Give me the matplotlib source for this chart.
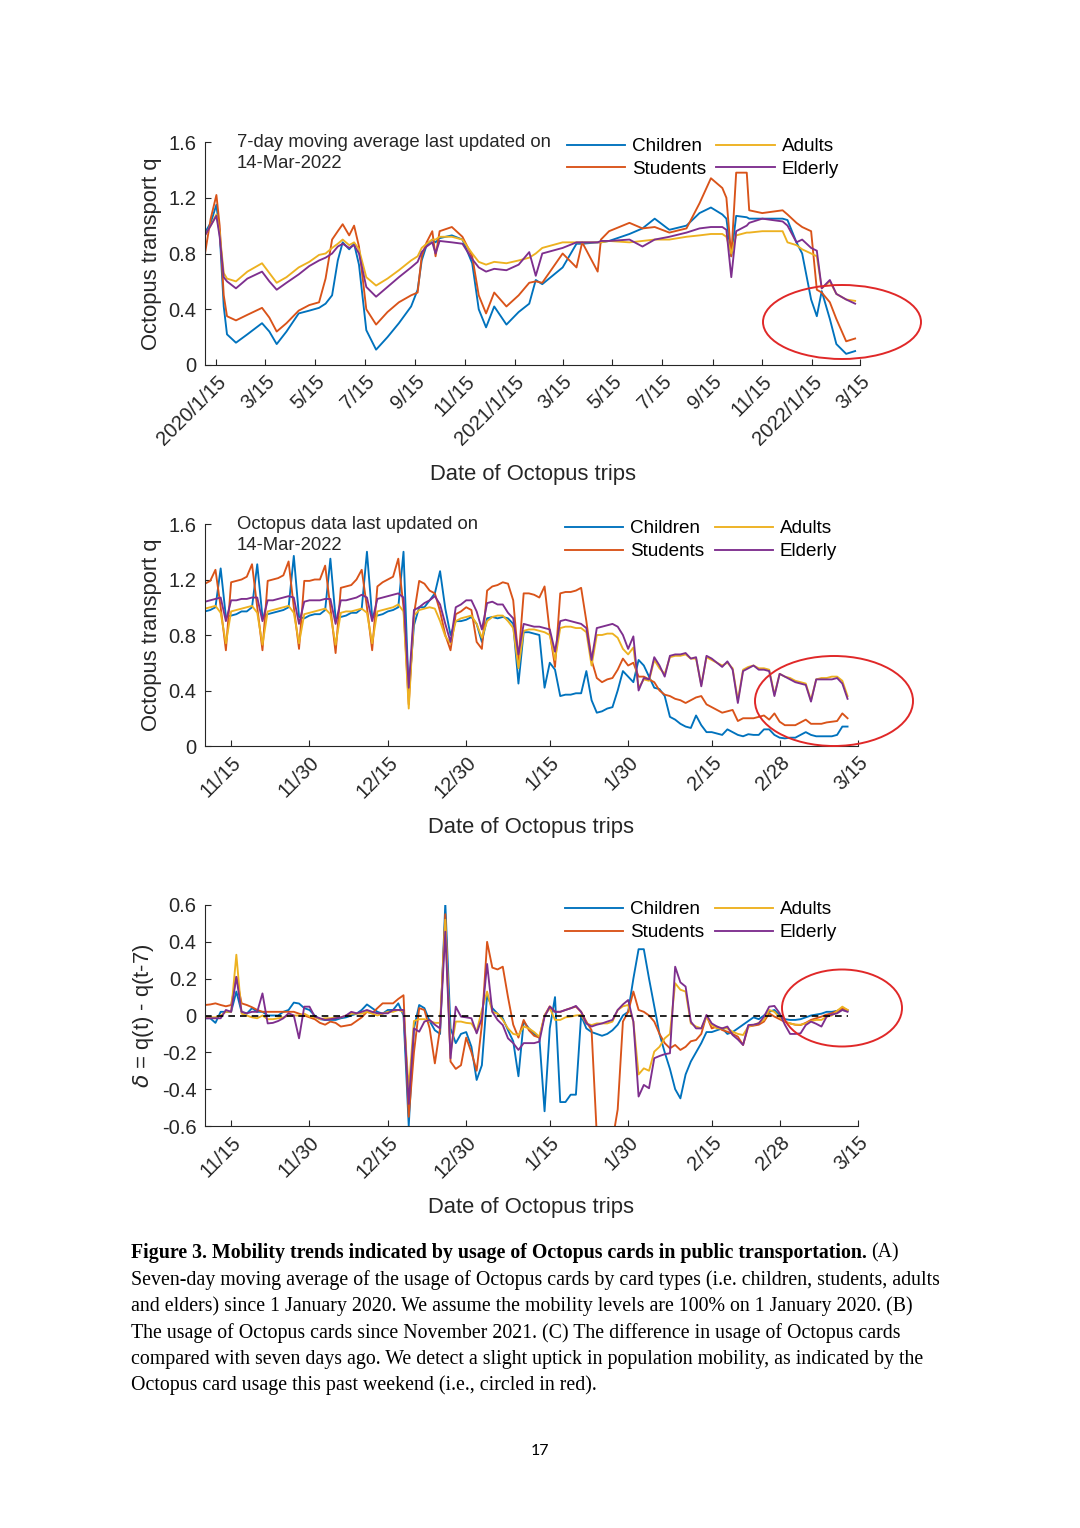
import numpy as np
import pandas as pd
import matplotlib
matplotlib.use('Agg')
import matplotlib.pyplot as plt
from matplotlib.patches import Ellipse

plt.rcParams['font.family'] = ['Liberation Sans', 'DejaVu Sans']
plt.rcParams['mathtext.fontset'] = 'dejavusans'

# ---------------- data ----------------
series_names = ['Children', 'Students', 'Adults', 'Elderly']
series_colors = ['#0072BD', '#D95319', '#EDB120', '#7E2F8E']

# (A) 7-day moving average since Jan 2020
a_dates = ['2020-01-01', '2020-01-08', '2020-01-15', '2020-01-19', '2020-01-24', '2020-01-28',
           '2020-02-08', '2020-02-22', '2020-03-11', '2020-03-20', '2020-03-29', '2020-04-10',
           '2020-04-25', '2020-05-08', '2020-05-20', '2020-05-28', '2020-06-05', '2020-06-12',
           '2020-06-18', '2020-06-26', '2020-07-02', '2020-07-08', '2020-07-17', '2020-07-29',
           '2020-08-12', '2020-08-26', '2020-09-10', '2020-09-18', '2020-09-23', '2020-09-29',
           '2020-10-06', '2020-10-10', '2020-10-15', '2020-10-30', '2020-11-12', '2020-11-24',
           '2020-12-02', '2020-12-11', '2020-12-21', '2021-01-05', '2021-01-20', '2021-02-02',
           '2021-02-10', '2021-02-18', '2021-03-15', '2021-04-01', '2021-04-08', '2021-04-27',
           '2021-05-01', '2021-05-11', '2021-06-05', '2021-06-21', '2021-07-06', '2021-07-24',
           '2021-08-14', '2021-08-30', '2021-09-13', '2021-09-27', '2021-10-02', '2021-10-08',
           '2021-10-14', '2021-10-27', '2021-10-30', '2021-11-15', '2021-12-10', '2021-12-16',
           '2021-12-27', '2022-01-03', '2022-01-14', '2022-01-21', '2022-01-27', '2022-02-06',
           '2022-02-14', '2022-02-26', '2022-03-09']
a_children = [0.95, 1.02, 1.15, 0.95, 0.42, 0.22, 0.16, 0.22, 0.30, 0.24, 0.15, 0.24,
              0.37, 0.39, 0.41, 0.44, 0.50, 0.75, 0.88, 0.83, 0.87, 0.72, 0.25, 0.11,
              0.20, 0.30, 0.42, 0.54, 0.75, 0.86, 0.90, 0.88, 0.91, 0.93, 0.90, 0.73,
              0.40, 0.27, 0.42, 0.29, 0.38, 0.44, 0.61, 0.58, 0.70, 0.87, 0.87, 0.88,
              0.88, 0.89, 0.94, 0.98, 1.05, 0.97, 1.00, 1.09, 1.13, 1.08, 1.05, 0.78,
              1.07, 1.06, 1.05, 1.05, 1.05, 1.04, 0.88, 0.80, 0.47, 0.35, 0.53, 0.33,
              0.15, 0.08, 0.10]
a_students = [0.80, 1.05, 1.22, 1.00, 0.50, 0.35, 0.32, 0.36, 0.41, 0.34, 0.24, 0.30,
              0.39, 0.43, 0.45, 0.62, 0.90, 0.96, 1.01, 0.93, 1.00, 0.85, 0.40, 0.29,
              0.38, 0.45, 0.50, 0.52, 0.78, 0.88, 0.96, 0.78, 0.96, 0.99, 0.92, 0.78,
              0.50, 0.37, 0.52, 0.42, 0.50, 0.59, 0.60, 0.59, 0.80, 0.70, 0.88, 0.67,
              0.90, 0.96, 1.02, 0.98, 0.99, 0.95, 0.98, 1.16, 1.34, 1.27, 1.20, 0.78,
              1.38, 1.38, 1.11, 1.09, 1.11, 1.08, 1.02, 0.99, 0.96, 0.54, 0.52, 0.45,
              0.33, 0.17, 0.19]
a_adults = [0.93, 1.00, 1.08, 0.95, 0.66, 0.62, 0.60, 0.67, 0.73, 0.66, 0.59, 0.63,
            0.70, 0.74, 0.79, 0.80, 0.84, 0.87, 0.90, 0.86, 0.88, 0.83, 0.63, 0.57,
            0.62, 0.68, 0.75, 0.78, 0.84, 0.87, 0.90, 0.90, 0.92, 0.92, 0.90, 0.80,
            0.74, 0.72, 0.74, 0.73, 0.75, 0.77, 0.80, 0.84, 0.88, 0.88, 0.88, 0.88,
            0.88, 0.89, 0.88, 0.89, 0.90, 0.90, 0.92, 0.93, 0.94, 0.94, 0.92, 0.80,
            0.93, 0.95, 0.95, 0.96, 0.96, 0.88, 0.86, 0.83, 0.80, 0.78, 0.55, 0.60,
            0.51, 0.47, 0.46]
a_elderly = [0.93, 1.00, 1.07, 0.92, 0.63, 0.60, 0.55, 0.62, 0.67, 0.60, 0.54, 0.59,
             0.65, 0.71, 0.75, 0.77, 0.80, 0.85, 0.87, 0.84, 0.86, 0.80, 0.56, 0.49,
             0.56, 0.63, 0.70, 0.74, 0.81, 0.85, 0.88, 0.80, 0.89, 0.88, 0.87, 0.76,
             0.70, 0.67, 0.69, 0.68, 0.72, 0.81, 0.64, 0.80, 0.84, 0.88, 0.88, 0.88,
             0.89, 0.89, 0.90, 0.85, 0.90, 0.92, 0.95, 0.98, 0.99, 0.99, 0.97, 0.63,
             0.96, 1.00, 1.02, 1.05, 1.03, 1.00, 0.88, 0.90, 0.84, 0.82, 0.55, 0.61,
             0.51, 0.47, 0.44]

# (B) daily usage since 10 Nov 2021 (124 days)
b_start = '2021-11-10'
b_children = [0.97, 0.98, 1.00, 1.28, 0.93,
              0.94, 0.95, 0.97, 0.97, 1.00, 1.31, 0.93,
              0.95, 0.96, 0.97, 0.98, 1.00, 1.37, 0.93,
              0.92, 0.94, 0.95, 0.95, 0.98, 1.35, 0.92,
              0.93, 0.94, 0.96, 0.96, 0.99, 1.40, 0.93,
              0.94, 0.95, 0.97, 0.98, 1.00, 1.40, 0.38,
              0.87, 1.00, 1.00, 1.05, 1.10, 1.26, 0.99,
              0.80, 0.90, 0.90, 0.91, 0.93, 0.88, 0.75,
              0.92, 0.93, 0.92, 0.93, 0.92, 0.88, 0.45,
              0.82, 0.82, 0.81, 0.80, 0.42, 0.60, 0.55,
              0.36, 0.37, 0.37, 0.38, 0.38, 0.54, 0.33,
              0.24, 0.25, 0.27, 0.28, 0.40, 0.54, 0.50,
              0.46, 0.62, 0.58, 0.50, 0.42, 0.41, 0.36,
              0.21, 0.19, 0.16, 0.14, 0.13, 0.22, 0.15,
              0.10, 0.10, 0.09, 0.08, 0.12, 0.10, 0.08,
              0.07, 0.085, 0.08, 0.08, 0.12, 0.12, 0.08,
              0.06, 0.055, 0.06, 0.06, 0.08, 0.10, 0.08,
              0.07, 0.07, 0.07, 0.07, 0.08, 0.14, 0.14]
b_students = [1.17, 1.19, 1.27, 1.00, 0.69,
              1.18, 1.19, 1.20, 1.22, 1.31, 1.00, 0.69,
              1.19, 1.20, 1.21, 1.23, 1.33, 1.00, 0.70,
              1.19, 1.19, 1.20, 1.20, 1.30, 1.00, 0.67,
              1.14, 1.15, 1.16, 1.20, 1.27, 1.00, 0.69,
              1.15, 1.18, 1.20, 1.22, 1.35, 1.00, 0.30,
              0.95, 1.19, 1.17, 1.12, 1.10, 0.97, 0.80,
              0.69, 0.95, 0.97, 1.00, 0.98, 0.75, 0.70,
              1.12, 1.15, 1.16, 1.18, 1.17, 1.05, 0.62,
              1.10, 1.10, 1.09, 1.07, 1.15, 0.82, 0.57,
              1.10, 1.11, 1.11, 1.12, 1.14, 0.90, 0.62,
              0.49, 0.46, 0.48, 0.49, 0.55, 0.63, 0.58,
              0.60, 0.50, 0.50, 0.48, 0.46, 0.40, 0.37,
              0.36, 0.34, 0.33, 0.31, 0.33, 0.35, 0.36,
              0.30, 0.28, 0.26, 0.24, 0.25, 0.26, 0.18,
              0.20, 0.20, 0.20, 0.21, 0.22, 0.19, 0.235,
              0.175, 0.15, 0.15, 0.15, 0.17, 0.19, 0.16,
              0.16, 0.16, 0.17, 0.175, 0.18, 0.235, 0.20]
b_adults = [0.99, 1.00, 1.01, 0.96, 0.74,
            0.97, 0.98, 0.99, 1.00, 1.01, 0.96, 0.73,
            0.97, 0.98, 0.99, 1.00, 1.01, 0.96, 0.74,
            0.95, 0.96, 0.97, 0.98, 0.99, 0.95, 0.73,
            0.96, 0.97, 0.97, 0.98, 0.99, 0.96, 0.74,
            0.97, 0.98, 0.99, 1.00, 1.02, 0.97, 0.27,
            0.94, 0.98, 0.99, 1.00, 0.99, 0.90, 0.79,
            0.74, 0.90, 0.92, 0.93, 0.94, 0.88, 0.78,
            0.90, 0.93, 0.94, 0.94, 0.90, 0.85, 0.56,
            0.83, 0.84, 0.84, 0.83, 0.82, 0.80, 0.62,
            0.85, 0.86, 0.86, 0.85, 0.85, 0.82, 0.58,
            0.80, 0.80, 0.81, 0.81, 0.78, 0.70, 0.66,
            0.71, 0.42, 0.48, 0.47, 0.62, 0.56, 0.52,
            0.64, 0.65, 0.65, 0.66, 0.63, 0.63, 0.44,
            0.64, 0.62, 0.60, 0.58, 0.60, 0.56, 0.33,
            0.55, 0.57, 0.58, 0.56, 0.56, 0.55, 0.37,
            0.52, 0.50, 0.49, 0.47, 0.46, 0.45, 0.33,
            0.48, 0.49, 0.49, 0.50, 0.50, 0.47, 0.36]
b_elderly = [1.04, 1.05, 1.06, 1.07, 0.90,
             1.05, 1.05, 1.06, 1.06, 1.07, 1.07, 0.90,
             1.05, 1.05, 1.06, 1.07, 1.08, 1.07, 0.88,
             1.04, 1.05, 1.05, 1.05, 1.06, 1.06, 0.88,
             1.05, 1.05, 1.06, 1.07, 1.09, 1.07, 0.90,
             1.06, 1.07, 1.08, 1.09, 1.10, 1.07, 0.42,
             0.98, 1.00, 1.03, 1.05, 1.08, 1.02, 0.88,
             0.75, 1.00, 1.02, 1.05, 1.05, 0.97, 0.84,
             1.03, 1.04, 1.02, 1.02, 0.96, 0.92, 0.66,
             0.88, 0.87, 0.86, 0.86, 0.85, 0.84, 0.68,
             0.90, 0.91, 0.90, 0.89, 0.88, 0.85, 0.62,
             0.85, 0.86, 0.87, 0.88, 0.86, 0.80, 0.70,
             0.79, 0.40, 0.49, 0.48, 0.64, 0.58, 0.50,
             0.65, 0.66, 0.66, 0.67, 0.63, 0.64, 0.43,
             0.65, 0.63, 0.60, 0.57, 0.61, 0.55, 0.31,
             0.54, 0.56, 0.58, 0.55, 0.55, 0.54, 0.36,
             0.52, 0.50, 0.48, 0.46, 0.45, 0.44, 0.32,
             0.48, 0.48, 0.48, 0.48, 0.49, 0.45, 0.34]

# (C) difference with seven days ago, same days as (B)
c_children = [-0.015, -0.015, -0.04, 0.02, 0.02, 0.02, 0.13, 0.02, 0.01, 0.04,
              0.02, 0.02, 0.0, 0.0, 0.0, 0.02, 0.03, 0.07, 0.065, 0.04,
              0.03, 0.0, -0.02, -0.024, -0.024, -0.024, -0.015, -0.01, 0.0, 0.01,
              0.03, 0.06, 0.04, 0.02, 0.01, 0.03, 0.03, 0.066, 0.0, -0.60,
              -0.07, 0.057, 0.04, -0.03, -0.08, -0.10, 0.61, -0.07, -0.15, -0.10,
              -0.09, -0.17, -0.35, -0.27, 0.11, 0.04, 0.01, -0.015, -0.08, -0.14,
              -0.33, -0.033, -0.07, -0.10, -0.12, -0.52, -0.07, 0.10, -0.47, -0.47,
              -0.43, -0.43, 0.0, -0.07, -0.09, -0.10, -0.11, -0.10, -0.08, -0.05,
              0.0, 0.02, 0.20, 0.36, 0.36, 0.20, 0.05, -0.10, -0.20, -0.29,
              -0.40, -0.45, -0.32, -0.25, -0.20, -0.15, -0.09, -0.09, -0.08, -0.07,
              -0.10, -0.09, -0.07, -0.05, -0.03, -0.01, -0.02, 0.0, 0.02, 0.03,
              0.0, -0.02, -0.024, -0.024, -0.02, -0.01, 0.0, 0.005, 0.01, 0.02,
              0.02, 0.025, 0.03, 0.025]
c_students = [0.057, 0.06, 0.066, 0.057, 0.05, 0.057, 0.21, 0.066, 0.057, 0.045,
              0.03, 0.02, 0.02, 0.02, 0.02, 0.02, 0.02, 0.02, 0.01, 0.0,
              -0.01, -0.02, -0.04, -0.05, -0.033, -0.04, -0.06, -0.055, -0.05, -0.03,
              -0.01, 0.02, 0.012, 0.04, 0.066, 0.066, 0.066, 0.09, 0.11, -0.55,
              -0.20, 0.04, 0.03, -0.07, -0.26, -0.07, 0.55, -0.25, -0.29, -0.27,
              -0.12, -0.20, -0.30, -0.05, 0.40, 0.26, 0.25, 0.265, 0.10, -0.05,
              -0.12, -0.024, -0.08, -0.11, -0.12, 0.0, 0.05, 0.02, 0.02, 0.03,
              0.04, 0.048, 0.02, -0.033, -0.08, -0.65, -0.70, -0.70, -0.68, -0.51,
              -0.033, 0.02, 0.13, 0.03, 0.02, 0.0, -0.033, -0.10, -0.15, -0.178,
              -0.16, -0.187, -0.17, -0.14, -0.133, -0.10, 0.0, -0.07, -0.06, -0.079,
              -0.088, -0.10, -0.115, -0.16, -0.06, -0.055, -0.05, -0.033, 0.012, -0.006,
              -0.02, -0.035, -0.043, -0.05, -0.052, -0.04, -0.024, -0.015, -0.006, 0.005,
              0.012, 0.025, 0.039, 0.03]
c_adults = [-0.01, -0.01, -0.01, 0.0, 0.02, 0.02, 0.33, 0.01, 0.0, -0.01,
            -0.015, 0.0, -0.02, -0.02, -0.015, -0.01, 0.0, 0.0, 0.0, 0.01,
            -0.005, -0.01, -0.02, -0.015, -0.015, -0.01, -0.01, 0.0, 0.01, 0.01,
            0.01, 0.02, 0.01, 0.0, 0.01, 0.02, 0.02, 0.03, 0.02, -0.40,
            -0.03, -0.02, -0.02, -0.03, -0.04, -0.04, 0.52, -0.20, -0.033, -0.033,
            -0.04, -0.043, -0.088, 0.03, 0.13, 0.02, 0.01, -0.024, -0.07, -0.10,
            -0.106, -0.06, -0.07, -0.09, -0.115, 0.0, 0.04, -0.024, -0.024, -0.01,
            -0.006, 0.0, 0.003, -0.043, -0.052, -0.043, -0.043, -0.043, -0.033, 0.03,
            0.05, 0.057, -0.033, -0.32, -0.287, -0.30, -0.196, -0.17, -0.124, -0.10,
            0.175, 0.14, 0.13, -0.043, -0.06, -0.07, -0.006, -0.052, -0.07, -0.07,
            -0.07, -0.088, -0.10, -0.106, -0.06, -0.052, -0.04, -0.024, 0.03, 0.02,
            -0.01, -0.033, -0.043, -0.05, -0.05, -0.043, -0.03, -0.024, -0.024, -0.006,
            0.0, 0.025, 0.048, 0.03]
c_elderly = [-0.015, -0.015, -0.015, -0.015, 0.03, 0.02, 0.21, 0.02, 0.012, 0.02,
             0.02, 0.12, -0.043, -0.04, -0.03, -0.015, 0.012, 0.0, -0.124, 0.048,
             0.048, -0.006, -0.015, -0.024, -0.02, -0.015, -0.01, 0.0, 0.02, 0.012,
             0.02, 0.03, 0.02, 0.012, 0.012, 0.012, 0.03, 0.03, 0.03, -0.48,
             -0.07, -0.088, -0.033, -0.024, -0.05, -0.07, 0.455, -0.232, 0.048, -0.006,
             -0.01, -0.015, -0.097, -0.015, 0.28, 0.02, -0.024, -0.052, -0.124, -0.15,
             -0.187, -0.15, -0.15, -0.15, -0.142, -0.006, 0.048, 0.02, 0.02, 0.03,
             0.039, 0.052, 0.02, -0.043, -0.06, -0.05, -0.043, -0.033, -0.024, 0.03,
             0.06, 0.084, -0.033, -0.44, -0.377, -0.395, -0.232, -0.22, -0.21, -0.205,
             0.265, 0.18, 0.157, -0.033, -0.07, -0.07, 0.003, -0.043, -0.06, -0.07,
             -0.06, -0.106, -0.13, -0.16, -0.052, -0.05, -0.043, -0.006, 0.048, 0.052,
             0.012, -0.05, -0.10, -0.10, -0.097, -0.052, -0.033, -0.045, -0.06, -0.006,
             0.005, 0.012, 0.03, 0.02]

a_tick_dates = ['2020-01-15', '2020-03-15', '2020-05-15', '2020-07-15', '2020-09-15',
                '2020-11-15', '2021-01-15', '2021-03-15', '2021-05-15', '2021-07-15',
                '2021-09-15', '2021-11-15', '2022-01-15', '2022-03-15']
a_tick_labels = ['2020/1/15', '3/15', '5/15', '7/15', '9/15', '11/15', '2021/1/15',
                 '3/15', '5/15', '7/15', '9/15', '11/15', '2022/1/15', '3/15']
bc_tick_dates = ['2021-11-15', '2021-11-30', '2021-12-15', '2021-12-30', '2022-01-15',
                 '2022-01-30', '2022-02-15', '2022-02-28', '2022-03-15']
bc_tick_labels = ['11/15', '11/30', '12/15', '12/30', '1/15', '1/30', '2/15', '2/28', '3/15']

caption_bold = 'Figure 3. Mobility trends indicated by usage of Octopus cards in public transportation.'
caption_lines = [
    'Seven-day moving average of the usage of Octopus cards by card types (i.e. children, students, adults',
    'and elders) since 1 January 2020. We assume the mobility levels are 100% on 1 January 2020. (B)',
    'The usage of Octopus cards since November 2021. (C) The difference in usage of Octopus cards',
    'compared with seven days ago. We detect a slight uptick in population mobility, as indicated by the',
    'Octopus card usage this past weekend (i.e., circled in red).',
]

# ---------------- figure ----------------
W, H = 1080, 1528
fig = plt.figure(figsize=(W / 100, H / 100), dpi=100)
fig.patch.set_facecolor('white')

def box(left, top, right, bottom):
    return [left / W, 1 - bottom / H, (right - left) / W, (bottom - top) / H]

ink = '#262626'
fs_tick = 14.5
fs_label = 15.8
fs_text = 13.3

def style(ax, tick_dates, tick_labels, yticks, ylabels):
    for s in ['top', 'right']:
        ax.spines[s].set_visible(False)
    for s in ['left', 'bottom']:
        ax.spines[s].set_color(ink)
        ax.spines[s].set_linewidth(0.8)
    ax.tick_params(direction='in', length=4.5, width=0.8, colors=ink,
                   labelsize=fs_tick)
    ax.tick_params(axis='y', pad=6)
    ax.tick_params(axis='x', pad=5)
    ax.set_xticks(pd.to_datetime(tick_dates))
    ax.set_xticklabels(tick_labels, rotation=45, ha='right', va='top',
                       rotation_mode='anchor')
    ax.set_yticks(yticks)
    ax.set_yticklabels(ylabels)
    ax.set_xlabel('Date of Octopus trips', fontsize=fs_label, color=ink, labelpad=11)

def add_legend(ax):
    ax.legend(ncol=2, loc='upper right', bbox_to_anchor=(0.968, 1.018),
              frameon=False, fontsize=13.6, handlelength=3.1, handletextpad=0.35,
              columnspacing=0.55, labelspacing=0.3, borderpad=0, borderaxespad=0)

# ---- panel A
axA = fig.add_axes(box(205, 142, 860, 365))
a_x = pd.to_datetime(a_dates)
for name, col, vals in zip(series_names, series_colors,
                           [a_children, a_students, a_adults, a_elderly]):
    axA.plot(a_x, vals, color=col, lw=1.35, label=name)
axA.set_xlim(pd.Timestamp('2020-01-01'), pd.Timestamp('2022-03-15'))
axA.set_ylim(0, 1.6)
style(axA, a_tick_dates, a_tick_labels, [0, 0.4, 0.8, 1.2, 1.6],
      ['0', '0.4', '0.8', '1.2', '1.6'])
axA.set_ylabel('Octopus transport q', fontsize=fs_label, color=ink, labelpad=5)
axA.text(0.049, 1.036, '7-day moving average last updated on\n14-Mar-2022',
         transform=axA.transAxes, fontsize=fs_text, va='top', ha='left', color=ink,
         linespacing=1.3)
add_legend(axA)

# ---- panel B
b_x = pd.date_range(b_start, periods=len(b_children), freq='D')
axB = fig.add_axes(box(205, 524, 858, 746))
for name, col, vals in zip(series_names, series_colors,
                           [b_children, b_students, b_adults, b_elderly]):
    axB.plot(b_x, vals, color=col, lw=1.35, label=name)
axB.set_xlim(pd.Timestamp('2021-11-10'), pd.Timestamp('2022-03-15'))
axB.set_ylim(0, 1.6)
style(axB, bc_tick_dates, bc_tick_labels, [0, 0.4, 0.8, 1.2, 1.6],
      ['0', '0.4', '0.8', '1.2', '1.6'])
axB.set_ylabel('Octopus transport q', fontsize=fs_label, color=ink, labelpad=5)
axB.text(0.049, 1.036, 'Octopus data last updated on\n14-Mar-2022',
         transform=axB.transAxes, fontsize=fs_text, va='top', ha='left', color=ink,
         linespacing=1.3)
add_legend(axB)

# ---- panel C
axC = fig.add_axes(box(205, 905, 858, 1126))
for name, col, vals in zip(series_names, series_colors,
                           [c_children, c_students, c_adults, c_elderly]):
    axC.plot(b_x, vals, color=col, lw=1.35, label=name)
axC.hlines(0, b_x[0], b_x[-1], colors='black', linestyles=(0, (4, 3)), lw=1.2)
axC.set_xlim(pd.Timestamp('2021-11-10'), pd.Timestamp('2022-03-15'))
axC.set_ylim(-0.6, 0.6)
style(axC, bc_tick_dates, bc_tick_labels, [-0.6, -0.4, -0.2, 0, 0.2, 0.4, 0.6],
      ['-0.6', '-0.4', '-0.2', '0', '0.2', '0.4', '0.6'])
axC.set_ylabel(r'$\delta$ = q(t) - q(t-7)', fontsize=fs_label, color=ink, labelpad=4)
add_legend(axC)

# ---- red circles
for cx, cy, w, h in [(842, 322, 158, 74), (834, 701, 158, 90), (842, 1008, 120, 77)]:
    fig.add_artist(Ellipse((cx / W, 1 - cy / H), w / W, h / H, transform=fig.transFigure,
                           fill=False, ec='#e02828', lw=1.4))

# ---- caption
serif = ['Liberation Serif', 'DejaVu Serif']
fs_cap = 14.3
t0 = fig.text(131 / W, 1 - 1253 / H, caption_bold, fontsize=fs_cap, family=serif,
              weight='bold', va='center', ha='left')
fig.canvas.draw()
bb = t0.get_window_extent(renderer=fig.canvas.get_renderer())
fig.text((bb.x1 + 4) / W, 1 - 1253 / H, '(A)', fontsize=fs_cap, family=serif,
         va='center', ha='left')
for k, line in enumerate(caption_lines):
    fig.text(131 / W, 1 - (1280 + 26.4 * k) / H, line, fontsize=fs_cap, family=serif,
             va='center', ha='left')

fig.text(540 / W, 1 - 1451 / H, '17', fontsize=11.5, family=['Lato', 'DejaVu Sans'],
         ha='center', va='center')

fig.savefig('out.png', dpi=100, facecolor='white')
